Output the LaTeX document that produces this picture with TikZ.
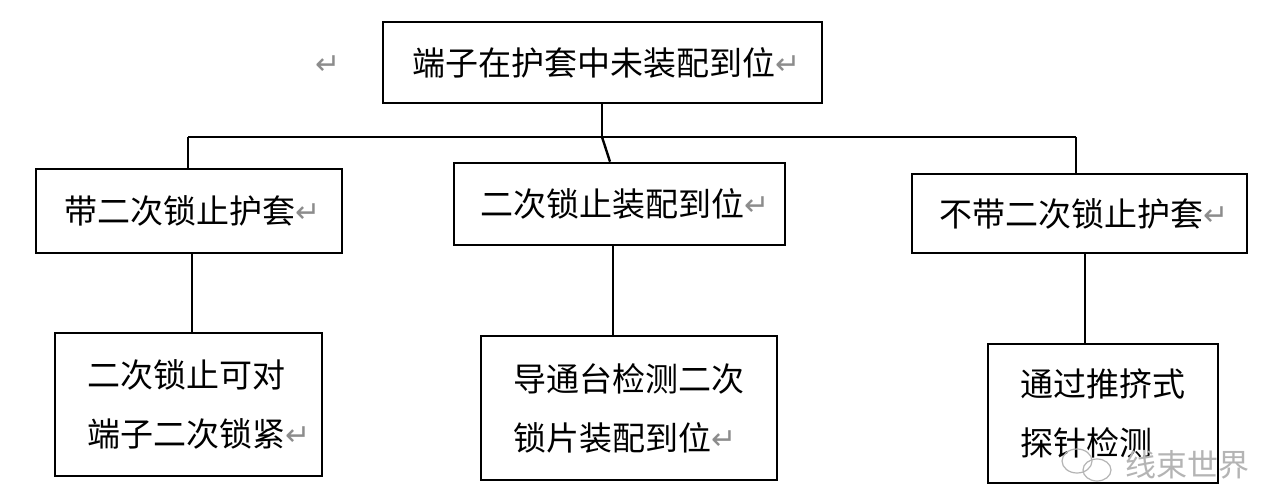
\documentclass[tikz,border=0pt]{standalone}
\usepackage{fontspec}
\newfontfamily\cjk{Noto Sans CJK SC}
\newfontfamily\dv{DejaVu Sans}
\newcommand{\rt}{{\dv\fontsize{30}{30}\selectfont\color{retgrey}\raisebox{1pt}{↵}}}
\definecolor{retgrey}{HTML}{8C8C8C}
\definecolor{wmgrey}{HTML}{B4B4B4}
\begin{document}
\begin{tikzpicture}[x=1pt,y=-1pt,
  box/.style={draw=black,line width=2.6pt,inner sep=0pt,font=\cjk\fontsize{33}{59}\selectfont},
  twoline/.style={box,align=left},
  link/.style={draw=black,line width=2.4pt}]
\useasboundingbox (0,0) rectangle (1282,494);
\fill[white] (0,0) rectangle (1282,494);
% top
\node[box,minimum width=439pt,minimum height=81pt] (top) at (602.5,62.5) {\hspace{8pt}\raisebox{-3pt}{端子在护套中未装配到位\rt}};
\node[inner sep=0pt] (ret0) at (328,66) {\rt};
% second row
\node[box,minimum width=306pt,minimum height=84pt] (l1) at (189,211) {\hspace{8pt}\raisebox{-3pt}{带二次锁止护套\rt}};
\node[box,minimum width=331pt,minimum height=82pt] (m1) at (619.5,204) {\hspace{12pt}\raisebox{-6pt}{二次锁止装配到位\rt}};
\node[box,minimum width=335pt,minimum height=79pt] (r1) at (1079.5,213.5) {\hspace{10pt}\raisebox{-6pt}{不带二次锁止护套\rt}};
% third row
\node[twoline,minimum width=267pt,minimum height=143pt] (l2) at (188.5,404.5) {二次锁止可对\\端子二次锁紧\rt\kern-22pt};
\node[twoline,minimum width=296pt,minimum height=144pt] (m2) at (629,408) {导通台检测二次\\锁片装配到位\rt};
\node[twoline,minimum width=230pt,minimum height=139pt] (r2) at (1103,413.5) {通过推挤式\\探针检测};
% connectors
\coordinate (j) at (602,137);
\coordinate (jl) at (188,137);
\coordinate (jr) at (1076,137);
\coordinate (mt) at (610,0);
\coordinate (lx) at (192,0);
\coordinate (mx) at (613,0);
\coordinate (rx) at (1085,0);
\draw[link] (top.south -| j) -- (j);
\draw[link] (jl) -- (jr);
\draw[link] (jl) -- (l1.north -| jl);
\draw[link] (jr) -- (r1.north -| jr);
\draw[link] (j) -- (m1.north -| mt);
\draw[link] (l1.south -| lx) -- (l2.north -| lx);
\draw[link] (m1.south -| mx) -- (m2.north -| mx);
\draw[link] (r1.south -| rx) -- (r2.north -| rx);
% watermark
\node[inner sep=0pt,text=wmgrey,font=\cjk\fontsize{31}{31}\selectfont] (wm) at (1187,465) {线束世界};
\draw[wmgrey,line width=1.2pt] (1077,461) ellipse (15pt and 12pt);
\draw[wmgrey,line width=1.2pt] (1097,470) ellipse (14pt and 11pt);
\end{tikzpicture}
\end{document}
